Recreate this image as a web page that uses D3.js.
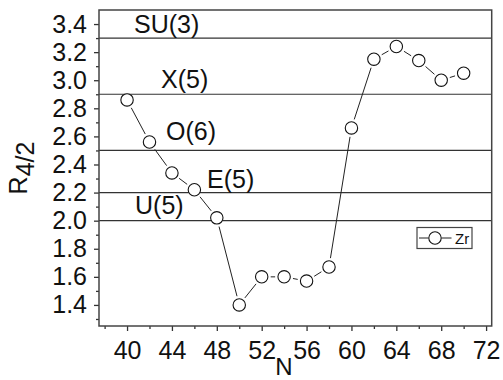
<!DOCTYPE html>
<html><head><meta charset="utf-8">
<script src="https://cdn.jsdelivr.net/npm/d3@7/dist/d3.min.js"></script>
<style>body{margin:0;background:#fff}svg{display:block;font-family:"Liberation Sans",Arial,sans-serif}</style>
</head><body><svg id="c" width="503" height="380"></svg>
<script>
const neutronN = [40,42,44,46,48,50,52,54,56,58,60,62,64,66,68,70];
const ratioZr = [2.86,2.56,2.34,2.22,2.02,1.40,1.60,1.60,1.57,1.67,2.66,3.15,3.24,3.14,3.00,3.05];
const limitNames = ["SU(3)","X(5)","O(6)","E(5)","U(5)"];
const limitValues = [3.3,2.9,2.5,2.2,2.0];
const xTicks = [40,44,48,52,56,60,64,68,72];
const xMinor = [38,42,46,50,54,58,62,66,70];
const yTicks = [1.4,1.6,1.8,2.0,2.2,2.4,2.6,2.8,3.0,3.2,3.4];
const yMinor = [1.3,1.5,1.7,1.9,2.1,2.3,2.5,2.7,2.9,3.1,3.3];
const seriesName = "Zr";

const svg = d3.select("#c");
const L=99,R=491.7,T=10,B=326;
const x = d3.scaleLinear().domain([37.5,72.5]).range([L,R]);
const y = d3.scaleLinear().domain([1.25,3.5]).range([B,T]);
const fs = 25;

// reference lines
svg.append("g").selectAll("line").data(limitValues).join("line")
  .attr("x1",L).attr("x2",R).attr("y1",d=>y(d)).attr("y2",d=>y(d))
  .attr("stroke","#333").attr("stroke-width",1.2);

// labels
const labPos = [[134,33],[161,88],[166,140],[207,188],[135,214]];
svg.append("g").selectAll("text").data(limitNames).join("text")
  .attr("x",(d,i)=>labPos[i][0]).attr("y",(d,i)=>labPos[i][1])
  .attr("font-size",25).attr("fill","#111").text(d=>d);

// axes
function styleAxis(g){ g.select(".domain").remove(); g.selectAll("line").attr("stroke","#333").attr("stroke-width",1.3); g.selectAll("text").attr("font-size",fs).attr("fill","#111").attr("font-family","Liberation Sans, Arial, sans-serif"); }
svg.append("g").attr("transform",`translate(0,${B})`)
  .call(d3.axisBottom(x).tickValues(xTicks).tickSize(5).tickPadding(10).tickFormat(d3.format("d"))).call(styleAxis);
svg.append("g").attr("transform",`translate(0,${B})`)
  .call(d3.axisBottom(x).tickValues(xMinor).tickSize(3).tickFormat("")).call(styleAxis);
svg.append("g").attr("transform",`translate(${L},0)`)
  .call(d3.axisLeft(y).tickValues(yTicks).tickSize(5).tickPadding(7).tickFormat(d3.format(".1f"))).call(styleAxis);
svg.append("g").attr("transform",`translate(${L},0)`)
  .call(d3.axisLeft(y).tickValues(yMinor).tickSize(3).tickFormat("")).call(styleAxis);

// frame
svg.append("rect").attr("x",L).attr("y",T).attr("width",R-L).attr("height",B-T)
  .attr("fill","none").attr("stroke","#444").attr("stroke-width",1.5);

// series line with gaps
const pts = neutronN.map((n,i)=>[x(n),y(ratioZr[i])]);
const gap = 9;
const segs = d3.pairs(pts).map(([a,b])=>{
  const dx=b[0]-a[0], dy=b[1]-a[1], len=Math.hypot(dx,dy);
  const ux=dx/len, uy=dy/len;
  return [a[0]+ux*gap,a[1]+uy*gap,b[0]-ux*gap,b[1]-uy*gap];
});
svg.append("g").selectAll("line").data(segs).join("line")
  .attr("x1",d=>d[0]).attr("y1",d=>d[1]).attr("x2",d=>d[2]).attr("y2",d=>d[3])
  .attr("stroke","#222").attr("stroke-width",1);
svg.append("g").selectAll("circle").data(pts).join("circle")
  .attr("cx",d=>d[0]).attr("cy",d=>d[1]).attr("r",6.2)
  .attr("fill","#fff").attr("stroke","#111").attr("stroke-width",1.1);

// axis titles
svg.append("text").attr("x",284).attr("y",375).attr("text-anchor","middle")
  .attr("font-size",24).attr("fill","#111").text("N");
const yt = svg.append("text").attr("transform","translate(27,168) rotate(-90)")
  .attr("text-anchor","middle").attr("font-size",25).attr("fill","#111");
yt.append("tspan").text("R");
yt.append("tspan").attr("dy",7).text("4/2");

// legend
const lg = svg.append("g");
lg.append("rect").attr("x",417).attr("y",227.5).attr("width",55).attr("height",21)
  .attr("fill","#fff").attr("stroke","#444").attr("stroke-width",1.2);
lg.append("line").attr("x1",419).attr("x2",428.5).attr("y1",238).attr("y2",238).attr("stroke","#222");
lg.append("line").attr("x1",441.5).attr("x2",451.5).attr("y1",238).attr("y2",238).attr("stroke","#222");
lg.append("circle").attr("cx",435).attr("cy",238).attr("r",6.2).attr("fill","#fff").attr("stroke","#111").attr("stroke-width",1.1);
lg.append("text").attr("x",455).attr("y",244).attr("font-size",15).attr("fill","#111").text(seriesName);
</script></body></html>
